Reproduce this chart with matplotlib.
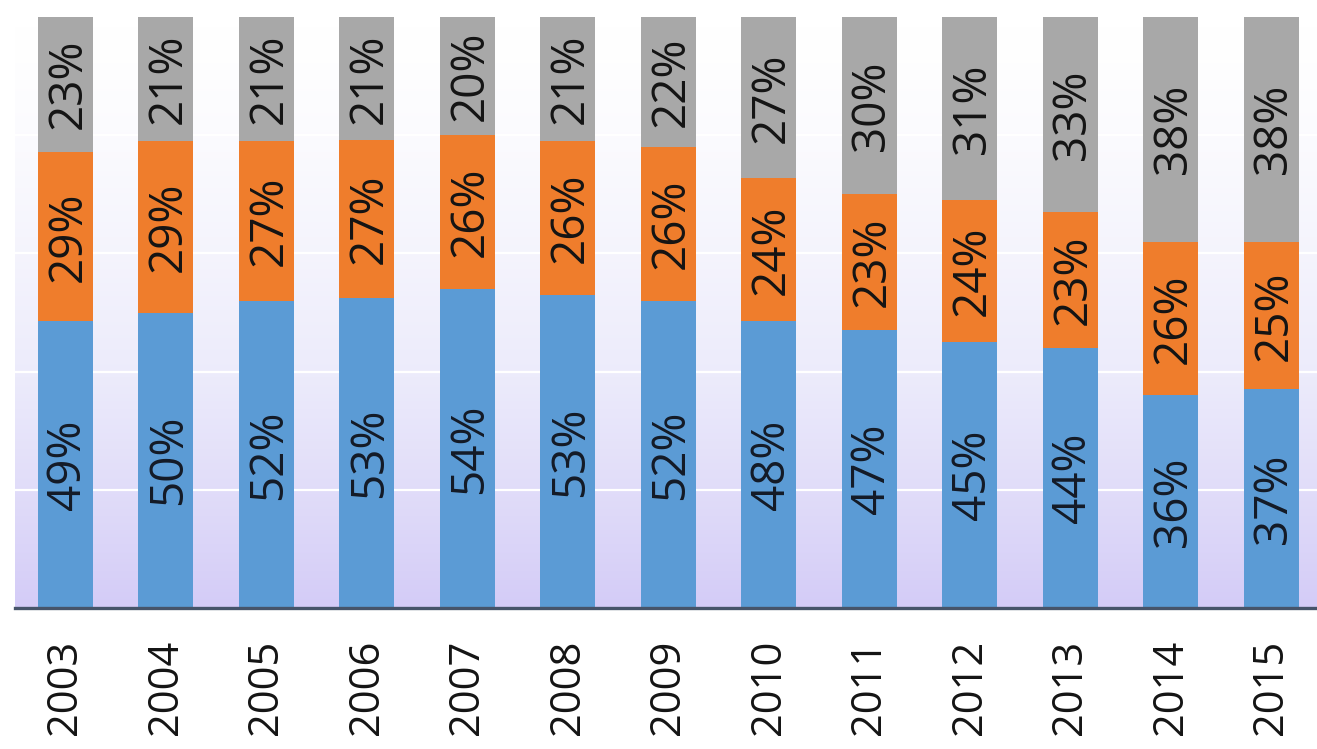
import numpy as np
import matplotlib
matplotlib.use("Agg")
import matplotlib.pyplot as plt
from matplotlib.colors import LinearSegmentedColormap

years = ["2003", "2004", "2005", "2006", "2007", "2008", "2009",
         "2010", "2011", "2012", "2013", "2014", "2015"]
blue_pct = [49, 50, 52, 53, 54, 53, 52, 48, 47, 45, 44, 36, 37]
orange_pct = [29, 29, 27, 27, 26, 26, 26, 24, 23, 24, 23, 26, 25]
gray_pct = [23, 21, 21, 21, 20, 21, 22, 27, 30, 31, 33, 38, 38]

plt.rcParams["font.family"] = ["Open Sans", "DejaVu Sans"]

W, H = 1317, 749
fig = plt.figure(figsize=(W / 100, H / 100), dpi=100)
ax = fig.add_axes([15 / W, 141 / H, 1306.5 / W, 591 / H])

# background gradient: white at top, lavender at the bottom
cmap = LinearSegmentedColormap.from_list("bg", ["#ffffff", "#ecebfb", "#d4ccf7"])
grad = np.linspace(0, 1, 256) ** 1.4
ax.imshow(grad[:, None], aspect="auto", cmap=cmap, vmin=0, vmax=1,
          extent=(-0.5, 12.5, 0, 1), origin="upper", zorder=0)
for gl in [0.2, 0.4, 0.6, 0.8]:
    ax.axhline(gl, color="white", lw=1.6, zorder=1)

x = np.arange(len(years))
blue = np.array(blue_pct, float)
orange = np.array(orange_pct, float)
gray = np.array(gray_pct, float)
tot = blue + orange + gray
b, o, g = blue / tot, orange / tot, gray / tot

w = 0.55
ax.bar(x, b, w, color="#5b9bd5", zorder=2)
ax.bar(x, o, w, bottom=b, color="#ef7d2c", zorder=2)
ax.bar(x, g, w, bottom=b + o, color="#a8a8a8", zorder=2)

fs = 33
for i in x:
    ax.text(i + 0.03, b[i] / 2, f"{blue_pct[i]}%", rotation=90, ha="center",
            va="center", fontsize=fs, color="#141a26", zorder=3)
    ax.text(i + 0.03, b[i] + o[i] / 2, f"{orange_pct[i]}%", rotation=90, ha="center",
            va="center", fontsize=fs, color="#141414", zorder=3)
    ax.text(i + 0.03, b[i] + o[i] + g[i] / 2, f"{gray_pct[i]}%", rotation=90,
            ha="center", va="center", fontsize=fs, color="#141414", zorder=3)

ax.set_xlim(-0.5, 12.5)
ax.set_ylim(0, 1)
ax.set_yticks([])
ax.set_xticks(x)
ax.set_xticklabels(years, rotation=90, fontsize=30, color="#141414")
ax.tick_params(axis="x", length=0, pad=23)
for s in ["top", "left", "right"]:
    ax.spines[s].set_visible(False)
ax.spines["bottom"].set_color("#46546a")
ax.spines["bottom"].set_linewidth(2.4)
ax.spines["bottom"].set_zorder(4)

fig.savefig("out.png", dpi=100, facecolor="white")
